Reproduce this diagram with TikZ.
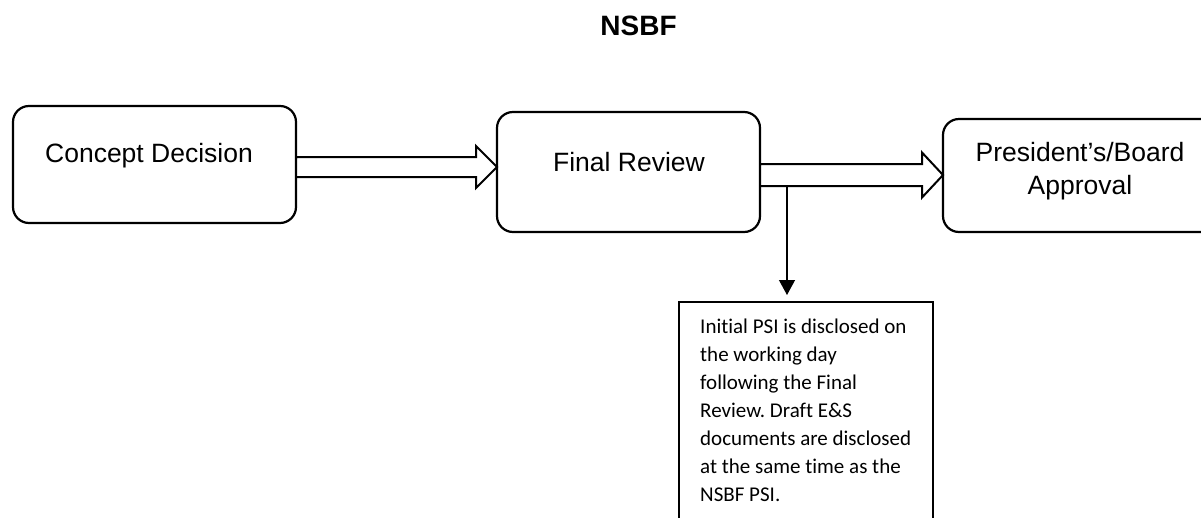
\documentclass[tikz,border=0pt]{standalone}
\usepackage{fontspec}
\setmainfont{Liberation Sans}
\newfontfamily\calfont[Ligatures={NoCommon}]{Carlito}
\usetikzlibrary{arrows.meta,calc}
\frenchspacing
\begin{document}
\begin{tikzpicture}[x=1pt,y=-1pt,
  roundbox/.style={draw, line width=2.2pt, rounded corners=16pt, inner sep=0pt, outer sep=0pt},
  boxlabel/.style={inner sep=0pt, font=\fontsize{26.5}{33}\selectfont},
  titlelabel/.style={inner sep=0pt, anchor=base, font=\bfseries\fontsize{28}{34}\selectfont},
  blockarrow/.style={draw, line width=2pt, fill=white, line join=miter},
  notebox/.style={draw, line width=1.3pt, inner sep=0pt, outer sep=0pt},
  notetext/.style={inner sep=0pt, anchor=north west, align=left, font=\calfont\frenchspacing\fontsize{21}{28}\selectfont},
  pointer/.style={line width=1.2pt, -{Triangle[length=15pt,width=16pt]}}
]
\useasboundingbox (0,0) rectangle (1201,517);
\fill[white] (0,0) rectangle (1201,517);
\clip (0,0) rectangle (1201,517);

\node[titlelabel] (title) at (638.5,35) {NSBF};

% boxes
\node[roundbox, minimum width=283pt, minimum height=117pt] (b1) at (154.5,164.5) {};
\node[roundbox, minimum width=263pt, minimum height=120pt] (b2) at (628.5,172) {};
\node[roundbox, minimum width=292pt, minimum height=113pt] (b3) at (1089,175.5) {};

\node[boxlabel, anchor=base] (t1) at (149,162.5) {Concept Decision};
\node[boxlabel, anchor=base] (t2) at (629,171.5) {Final Review};
\node[boxlabel, anchor=north, align=center] (t3) at (1080,142.5) {President’s/Board\\Approval};

% block arrows
\coordinate (a1s) at (b1.east |- 0,167);
\coordinate (a1t) at (b2.west |- a1s);
\draw[blockarrow] ($(a1s)+(0,-10)$) -- ($(a1t)+(-21,-10)$) -- ($(a1t)+(-21,-21)$) -- (a1t)
  -- ($(a1t)+(-21,21)$) -- ($(a1t)+(-21,10)$) -- ($(a1s)+(0,10)$) -- cycle;

\coordinate (a2s) at (b2.east |- 0,175);
\coordinate (a2t) at (b3.west |- a2s);
\draw[blockarrow] ($(a2s)+(0,-11)$) -- ($(a2t)+(-21,-11)$) -- ($(a2t)+(-21,-22.5)$) -- (a2t)
  -- ($(a2t)+(-21,22.5)$) -- ($(a2t)+(-21,11)$) -- ($(a2s)+(0,11)$) -- cycle;

% note box
\node[notebox, minimum width=254pt, minimum height=238pt] (tb) at (806,421) {};
\node[notetext] (note) at (700,319) {Initial PSI is disclosed on\\the working day\\following the Final\\Review. Draft E\&S\\documents are disclosed\\at the same time as the\\NSBF PSI.};

% pointer
\coordinate (v0) at ($(a2s)+(27,11)$);
\draw[pointer, shorten >=7pt] (v0) -- (v0 |- tb.north);
\end{tikzpicture}
\end{document}
